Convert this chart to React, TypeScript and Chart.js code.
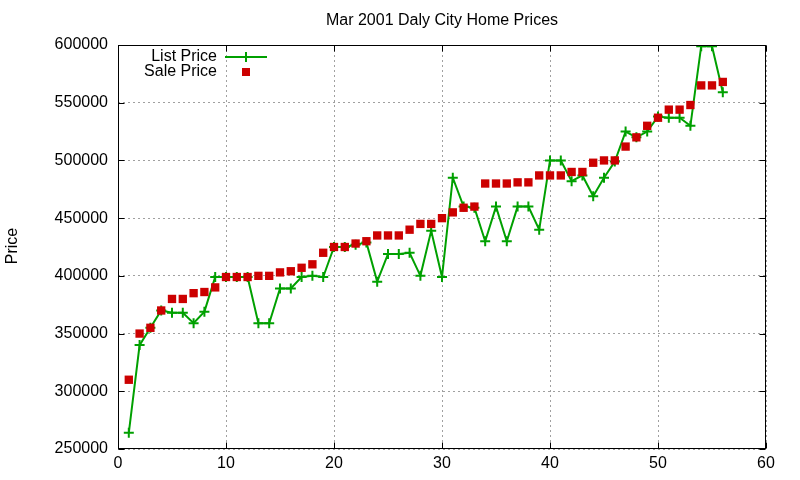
import React, { useEffect, useRef } from "react";
import { Chart, registerables } from "chart.js";
Chart.register(...registerables);

const TITLE = "Mar 2001 Daly City Home Prices";
const Y_LABEL = "Price";
const LIST_LABEL = "List Price";
const SALE_LABEL = "Sale Price";

const homeIndex = [
  1, 2, 3, 4, 5, 6, 7, 8, 9, 10, 11, 12, 13, 14, 15, 16, 17, 18, 19, 20,
  21, 22, 23, 24, 25, 26, 27, 28, 29, 30, 31, 32, 33, 34, 35, 36, 37, 38, 39, 40,
  41, 42, 43, 44, 45, 46, 47, 48, 49, 50, 51, 52, 53, 54, 55, 56,
];

const listPrice = [
  264000, 340000, 355000, 370000, 368000, 368000, 359000, 369000, 399000, 399000,
  399000, 399000, 359000, 359000, 389000, 389000, 399000, 400000, 399000, 425000,
  425000, 427000, 429000, 395000, 419000, 419000, 420000, 400000, 439000, 399000,
  485000, 460000, 459000, 430000, 460000, 430000, 460000, 460000, 440000, 500000,
  500000, 482000, 487000, 469000, 485000, 499000, 525000, 520000, 525000, 538000,
  537000, 537000, 530000, 599000, 599000, 559000,
];

const salePrice = [
  310000, 350000, 355000, 370000, 380000, 380000, 385000, 386000, 390000, 399000,
  399000, 399000, 400000, 400000, 403000, 404000, 407000, 410000, 420000, 425000,
  425000, 428000, 430000, 435000, 435000, 435000, 440000, 445000, 445000, 450000,
  455000, 459000, 460000, 480000, 480000, 480000, 481000, 481000, 487000, 487000,
  487000, 490000, 490000, 498000, 500000, 500000, 512000, 520000, 530000, 537000,
  544000, 544000, 548000, 565000, 565000, 568000,
];

const xTicks = [0, 10, 20, 30, 40, 50, 60];
const yTicks = [250000, 300000, 350000, 400000, 450000, 500000, 550000, 600000];

const GREEN = "#00a000";
const RED = "#cc0000";
const FONT = "16px 'Liberation Sans', Arial, sans-serif";

const decorPlugin = {
  id: "decor",
  afterDraw(chart: any) {
    const { ctx, chartArea } = chart;
    const { left, right, top, bottom } = chartArea;
    const xs = chart.scales.x;
    const ys = chart.scales.y;
    ctx.save();
    ctx.strokeStyle = "#000";
    ctx.lineWidth = 1;
    ctx.setLineDash([]);
    const L = Math.round(left) + 0.5;
    const R = Math.round(right) - 0.5;
    const T = Math.round(top) + 0.5;
    const B = Math.round(bottom) - 0.5;
    ctx.strokeRect(L, T, R - L, B - T);
    ctx.beginPath();
    yTicks.forEach((v) => {
      const y = Math.round(ys.getPixelForValue(v)) + 0.5;
      ctx.moveTo(L, y);
      ctx.lineTo(L + 6, y);
      ctx.moveTo(R, y);
      ctx.lineTo(R - 6, y);
    });
    xTicks.forEach((v) => {
      const x = Math.round(xs.getPixelForValue(v)) + 0.5;
      ctx.moveTo(x, B);
      ctx.lineTo(x, B - 6);
      ctx.moveTo(x, T);
      ctx.lineTo(x, T + 6);
    });
    ctx.stroke();

    ctx.fillStyle = "#000";
    ctx.font = FONT;
    ctx.textAlign = "center";
    ctx.textBaseline = "middle";
    ctx.fillText(TITLE, (left + right) / 2, 21);

    ctx.save();
    ctx.translate(13, 246);
    ctx.rotate(-Math.PI / 2);
    ctx.fillText(Y_LABEL, 0, 0);
    ctx.restore();

    ctx.textAlign = "right";
    ctx.fillText(LIST_LABEL, 217, 57);
    ctx.fillText(SALE_LABEL, 217, 72);
    ctx.strokeStyle = GREEN;
    ctx.lineWidth = 2;
    ctx.beginPath();
    ctx.moveTo(225, 57);
    ctx.lineTo(267, 57);
    ctx.moveTo(246, 52);
    ctx.lineTo(246, 62);
    ctx.stroke();
    ctx.fillStyle = RED;
    ctx.fillRect(242, 68, 8, 8);
    ctx.restore();
  },
};

export default function App() {
  const ref = useRef<HTMLCanvasElement>(null);
  useEffect(() => {
    if (!ref.current) return;
    const chart = new Chart(ref.current, {
      type: "scatter",
      data: {
        datasets: [
          {
            label: LIST_LABEL,
            order: 1,
            data: homeIndex.map((x, i) => ({ x, y: listPrice[i] })),
            showLine: true,
            borderColor: GREEN,
            backgroundColor: GREEN,
            borderWidth: 2,
            pointStyle: "cross",
            pointRadius: 5,
            pointBorderWidth: 2,
            pointBorderColor: GREEN,
            tension: 0,
          },
          {
            label: SALE_LABEL,
            order: 0,
            data: homeIndex.map((x, i) => ({ x, y: salePrice[i] })),
            showLine: false,
            borderColor: RED,
            backgroundColor: RED,
            pointStyle: "rect",
            pointRadius: 5.9,
            pointBorderWidth: 0,
          },
        ],
      },
      options: {
        responsive: false,
        animation: false,
        layout: { padding: { left: 0, right: 34, top: 45, bottom: 0 } },
        plugins: {
          legend: { display: false },
          title: { display: false },
          tooltip: { enabled: false },
        },
        scales: {
          x: {
            type: "linear",
            min: 0,
            max: 60,
            afterFit: (s: any) => {
              s.height = 31;
            },
            afterBuildTicks: (s: any) => {
              s.ticks = xTicks.map((v) => ({ value: v }));
            },
            ticks: {
              font: { family: "'Liberation Sans', Arial, sans-serif", size: 16 },
              color: "#000",
              padding: 5,
              maxRotation: 0,
            },
            grid: { color: "#a0a0a0", lineWidth: 1, drawTicks: false },
            border: { display: false, dash: [2, 3] },
          },
          y: {
            type: "linear",
            min: 250000,
            max: 600000,
            afterFit: (s: any) => {
              s.width = 118;
            },
            afterBuildTicks: (s: any) => {
              s.ticks = yTicks.map((v) => ({ value: v }));
            },
            ticks: {
              font: { family: "'Liberation Sans', Arial, sans-serif", size: 16 },
              color: "#000",
              padding: 10,
              callback: (v: any) => String(v),
            },
            grid: { color: "#a0a0a0", lineWidth: 1, drawTicks: false },
            border: { display: false, dash: [2, 3] },
          },
        },
      },
      plugins: [decorPlugin],
    });
    return () => chart.destroy();
  }, []);
  return (
    <div style={{ position: "fixed", left: 0, top: 0, width: 800, height: 480, background: "#fff" }}>
      <canvas ref={ref} width={800} height={480} />
    </div>
  );
}
